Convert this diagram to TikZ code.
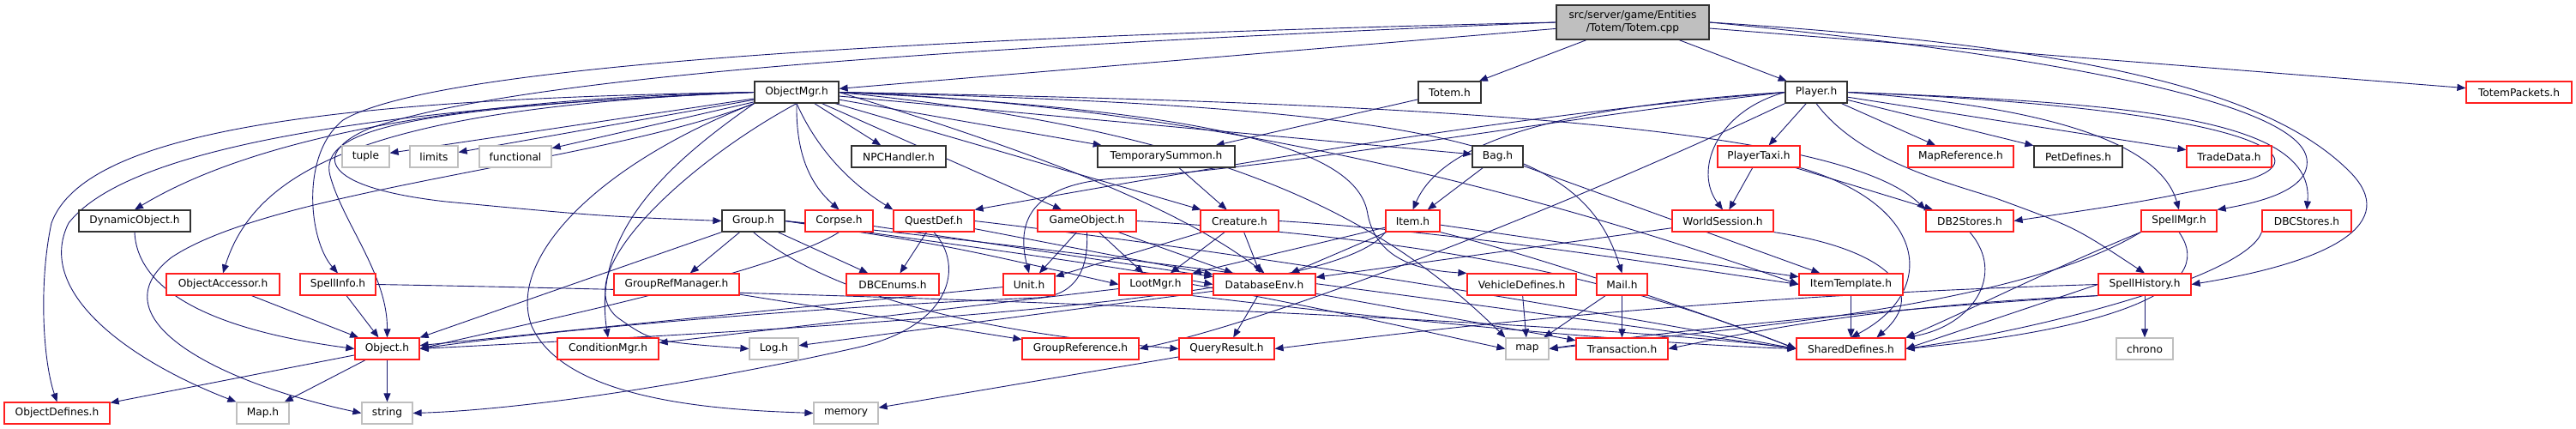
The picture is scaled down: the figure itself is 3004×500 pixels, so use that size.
\documentclass[tikz,border=0pt]{standalone}
\usepackage{fontspec}
\setmainfont{DejaVu Sans}
\usetikzlibrary{arrows.meta}
\pgfdeclarelayer{edges}
\pgfsetlayers{edges,main}
\definecolor{edgeblue}{RGB}{25,25,112}
\definecolor{boxred}{RGB}{255,30,30}
\definecolor{boxgray}{RGB}{191,191,191}
\definecolor{boxblack}{RGB}{50,50,50}
\tikzset{
  nb/.style={draw=boxblack, line width=1.2pt, fill=white, minimum height=25pt, inner sep=0pt, font=\fontsize{12.2}{15}\selectfont, text=black},
  nr/.style={nb, draw=boxred},
  ng/.style={nb, draw=boxgray},
  edg/.style={draw=edgeblue, line width=0.9pt, -{Triangle[length=10pt,width=8pt]}}
}
\begin{document}
\begin{tikzpicture}[x=1pt,y=-1pt]
\useasboundingbox (0,0) rectangle (3004,500);
% row 0
\node[nb, fill=boxgray, minimum width=178pt, minimum height=40pt, align=center] (root) at (1904,26) {src/server/game/Entities\\/Totem/Totem.cpp};
% row 1
\node[nb, minimum width=98pt] (ObjectMgr) at (929,107.5) {ObjectMgr.h};
\node[nb, minimum width=73pt] (TotemH) at (1690.5,107.5) {Totem.h};
\node[nb, minimum width=72pt] (Player) at (2118,107.5) {Player.h};
\node[nr, minimum width=123pt] (TotemPackets) at (2937.5,107.5) {TotemPackets.h};
% row 2
\node[ng, minimum width=55pt] (tuple) at (426.5,182.5) {tuple};
\node[ng, minimum width=56pt] (limits) at (506,182.5) {limits};
\node[ng, minimum width=84pt] (functional) at (601,182.5) {functional};
\node[nb, minimum width=110pt] (NPCHandler) at (1048,182.5) {NPCHandler.h};
\node[nb, minimum width=160pt] (TempSum) at (1360,182.5) {TemporarySummon.h};
\node[nb, minimum width=59pt] (Bag) at (1746.5,182.5) {Bag.h};
\node[nr, minimum width=96pt] (PlayerTaxi) at (2051,182.5) {PlayerTaxi.h};
\node[nr, minimum width=123pt] (MapReference) at (2286.5,182.5) {MapReference.h};
\node[nb, minimum width=103pt] (PetDefines) at (2423.5,182.5) {PetDefines.h};
\node[nr, minimum width=99pt] (TradeData) at (2599.5,182.5) {TradeData.h};
% row 3
\node[nb, minimum width=130pt] (DynamicObject) at (157,257.5) {DynamicObject.h};
\node[nb, minimum width=73pt] (Group) at (878.5,257.5) {Group.h};
\node[nr, minimum width=79pt] (Corpse) at (978.5,257.5) {Corpse.h};
\node[nr, minimum width=94pt] (QuestDef) at (1089,257.5) {QuestDef.h};
\node[nr, minimum width=115pt] (GameObject) at (1267.5,257.5) {GameObject.h};
\node[nr, minimum width=91pt] (Creature) at (1445.5,257.5) {Creature.h};
\node[nr, minimum width=63pt] (Item) at (1647.5,257.5) {Item.h};
\node[nr, minimum width=118pt] (WorldSession) at (2009,257.5) {WorldSession.h};
\node[nr, minimum width=102pt] (DB2Stores) at (2297,257.5) {DB2Stores.h};
\node[nr, minimum width=88pt] (SpellMgr) at (2541,257.5) {SpellMgr.h};
\node[nr, minimum width=104pt] (DBCStores) at (2690,257.5) {DBCStores.h};
% row 4
\node[nr, minimum width=132pt] (ObjectAccessor) at (260,331.5) {ObjectAccessor.h};
\node[nr, minimum width=88pt] (SpellInfo) at (394,331.5) {SpellInfo.h};
\node[nr, minimum width=146pt] (GroupRefManager) at (789,331.5) {GroupRefManager.h};
\node[nr, minimum width=108pt] (DBCEnums) at (1041,331.5) {DBCEnums.h};
\node[nr, minimum width=60pt] (Unit) at (1200,331.5) {Unit.h};
\node[nr, minimum width=85pt] (LootMgr) at (1347.5,331.5) {LootMgr.h};
\node[nr, minimum width=119pt] (DatabaseEnv) at (1474.5,331.5) {DatabaseEnv.h};
\node[nr, minimum width=127pt] (VehicleDefines) at (1774.5,331.5) {VehicleDefines.h};
\node[nr, minimum width=59pt] (Mail) at (1891.5,331.5) {Mail.h};
\node[nr, minimum width=121pt] (ItemTemplate) at (2158.5,331.5) {ItemTemplate.h};
\node[nr, minimum width=108pt] (SpellHistory) at (2501,331.5) {SpellHistory.h};
% row 5
\node[nr, minimum width=75pt] (Object) at (451.5,406.5) {Object.h};
\node[nr, minimum width=118pt] (ConditionMgr) at (709,406.5) {ConditionMgr.h};
\node[ng, minimum width=57pt] (Log) at (902.5,406.5) {Log.h};
\node[nr, minimum width=136pt] (GroupReference) at (1260,406.5) {GroupReference.h};
\node[nr, minimum width=111pt] (QueryResult) at (1430.5,406.5) {QueryResult.h};
\node[ng, minimum width=50pt] (map) at (1781,406.5) {map};
\node[nr, minimum width=107pt] (Transaction) at (1891.5,406.5) {Transaction.h};
\node[nr, minimum width=127pt] (SharedDefines) at (2158.5,406.5) {SharedDefines.h};
\node[ng, minimum width=66pt] (chrono) at (2501,406.5) {chrono};
% row 6
\node[nr, minimum width=123pt] (ObjectDefines) at (66.5,481.5) {ObjectDefines.h};
\node[ng, minimum width=61pt] (MapH) at (306.5,481.5) {Map.h};
\node[ng, minimum width=59pt] (string) at (451.5,481.5) {string};
\node[ng, minimum width=75pt] (memory) at (986.5,481.5) {memory};

\begin{pgfonlayer}{edges}
\fill[white] (0,0) rectangle (3004,500);
% ---- root edges
\draw[edg] (root) -- (ObjectMgr);
\draw[edg] (root) -- (TotemH);
\draw[edg] (root) -- (Player);
\draw[edg] (root) -- (TotemPackets);
\draw[edg] (root.west) .. controls (1000,45) and (500,80) .. (400,140) .. controls (350,180) and (360,280) .. (SpellInfo.north);
\draw[edg] (root.west) .. controls (1100,55) and (600,90) .. (430,150) .. controls (365,178) and (370,218) .. (520,235) .. controls (700,252) .. (Group.west);
\draw[edg] (root.east) .. controls (2450,55) and (2650,110) .. (2740,200) .. controls (2800,260) and (2720,305) .. (SpellHistory.east);
\draw[edg] (root.east) .. controls (2400,65) and (2680,120) .. (2690,185) .. controls (2695,220) and (2640,235) .. (SpellMgr.north east);

% ---- ObjectMgr edges
\draw[edg] (ObjectMgr) -- (tuple);
\draw[edg] (ObjectMgr) -- (limits);
\draw[edg] (ObjectMgr) -- (functional);
\draw[edg] (ObjectMgr) -- (NPCHandler);
\draw[edg] (ObjectMgr.west) .. controls (500,115) and (280,170) .. (DynamicObject.north);
\draw[edg] (ObjectMgr.west) .. controls (450,125) and (300,190) .. (ObjectAccessor.north);
\draw[edg] (ObjectMgr.west) .. controls (480,125) and (370,150) .. (385,205) .. controls (400,260) and (452,320) .. (Object.north);
\draw[edg] (ObjectMgr.west) .. controls (400,115) and (100,150) .. (60,260) .. controls (45,330) and (50,420) .. (ObjectDefines.north);
\draw[edg] (ObjectMgr.west) .. controls (450,125) and (150,170) .. (80,260) .. controls (40,340) and (150,420) .. (MapH.north west);
\draw[edg] (ObjectMgr.south west) .. controls (700,190) and (320,220) .. (200,300) .. controls (110,370) and (250,445) .. (string.west);
\draw[edg] (ObjectMgr.south west) .. controls (780,190) and (690,270) .. (ConditionMgr.north);
\draw[edg] (ObjectMgr.south) .. controls (800,190) and (660,320) .. (720,370) .. controls (760,398) .. (Log.west);
\draw[edg] (ObjectMgr.south west) .. controls (700,190) and (590,300) .. (620,380) .. controls (660,470) and (850,478) .. (memory.west);
\draw[edg] (ObjectMgr.south) .. controls (928,180) and (945,215) .. (Corpse.north);
\draw[edg] (ObjectMgr.south) .. controls (960,190) and (1010,225) .. (QuestDef.north west);
\draw[edg] (ObjectMgr) -- (GameObject);
\draw[edg] (ObjectMgr) -- (Creature);
\draw[edg] (ObjectMgr) -- (TempSum);
\draw[edg] (ObjectMgr.east) .. controls (1150,160) and (1360,230) .. (DatabaseEnv.north);
\draw[edg] (ObjectMgr) -- (Bag);
\draw[edg] (ObjectMgr.east) .. controls (1700,125) and (1845,170) .. (Mail.north);
\draw[edg] (ObjectMgr.east) .. controls (1400,150) and (1600,240) .. (map.north west);
\draw[edg] (ObjectMgr.east) .. controls (1450,130) and (1585,180) .. (1595,250) .. controls (1605,300) and (1650,315) .. (VehicleDefines.north west);
\draw[edg] (ObjectMgr.east) .. controls (1500,125) and (1950,280) .. (ItemTemplate.west);
\draw[edg] (ObjectMgr.east) .. controls (1700,120) and (2150,150) .. (DB2Stores.north west);

% ---- Totem.h, TemporarySummon
\draw[edg] (TotemH) -- (TempSum);
\draw[edg] (TempSum) -- (Creature);

% ---- Player edges
\draw[edg] (Player) -- (PlayerTaxi);
\draw[edg] (Player) -- (MapReference);
\draw[edg] (Player) -- (PetDefines);
\draw[edg] (Player) -- (TradeData);
\draw[edg] (Player.west) .. controls (2000,130) and (1975,200) .. (WorldSession.north);
\draw[edg] (Player.west) .. controls (1800,125) and (1680,170) .. (Item.north);
\draw[edg] (Player.west) .. controls (1800,130) and (1500,180) .. (QuestDef.north east);
\draw[edg] (Player.west) .. controls (1800,140) and (1500,195) .. (1300,208) .. controls (1200,215) and (1185,260) .. (Unit.north);
\draw[edg] (Player.south west) .. controls (1850,230) and (1500,370) .. (GroupReference.east);
\draw[edg] (Player.south) .. controls (2170,190) and (2280,215) .. (2330,232) .. controls (2420,265) .. (SpellHistory.north);
\draw[edg] (Player.east) .. controls (2400,125) and (2520,170) .. (SpellMgr.north);
\draw[edg] (Player.east) .. controls (2500,120) and (2700,140) .. (DBCStores.north);
\draw[edg] (Player.east) .. controls (2600,125) and (2720,180) .. (2620,210) .. controls (2500,235) .. (DB2Stores.east);

% ---- PlayerTaxi, WorldSession, DB2Stores
\draw[edg] (PlayerTaxi) -- (WorldSession);
\draw[edg] (PlayerTaxi) -- (DB2Stores);
\draw[edg] (PlayerTaxi.south east) .. controls (2250,240) and (2260,340) .. (SharedDefines.north);
\draw[edg] (WorldSession) -- (DatabaseEnv);
\draw[edg] (WorldSession.south east) .. controls (2200,290) and (2250,340) .. ([xshift=30pt]SharedDefines.north);
\draw[edg] (DB2Stores.south) .. controls (2340,320) and (2300,380) .. (SharedDefines.north east);
\draw[edg] (ItemTemplate) -- (SharedDefines);

% ---- Spell*
\draw[edg] (SpellHistory) -- (chrono);
\draw[edg] (SpellHistory.west) -- (SharedDefines.east);
\draw[edg] (SpellHistory.south west) .. controls (2200,355) and (2050,385) .. (Transaction.east);
\draw[edg] (SpellHistory.south west) .. controls (2200,360) and (1950,385) .. (map.east);
\draw[edg] (SpellHistory.west) .. controls (2000,345) and (1700,380) .. (QueryResult.east);
\draw[edg] (SpellMgr.south west) .. controls (2400,310) and (2300,360) .. (SharedDefines.north east);
\draw[edg] (SpellMgr.south) .. controls (2590,340) and (2450,385) .. (SharedDefines.east);
\draw[edg] (SpellMgr.south west) .. controls (2350,360) and (2000,385) .. (map.east);
\draw[edg] (DBCStores.south west) .. controls (2620,320) and (2400,380) .. (SharedDefines.east);
\draw[edg] (SpellInfo.east) .. controls (1200,345) and (1900,380) .. (SharedDefines.west);
\draw[edg] (SpellInfo) -- (Object);

% ---- Mail, VehicleDefines, Bag, Item
\draw[edg] (Mail) -- (map);
\draw[edg] (Mail) -- (Transaction);
\draw[edg] (VehicleDefines) -- (map);
\draw[edg] (Bag) -- (Item);
\draw[edg] (Bag) -- (ItemTemplate);
\draw[edg] (Item) -- (DatabaseEnv);
\draw[edg] (Item) -- (ItemTemplate);
\draw[edg] (Item) -- (LootMgr.north east);
\draw[edg] (Item.south west) .. controls (1560,350) and (1000,380) .. (Object.east);
\draw[edg] (Item.south east) .. controls (1800,300) and (2000,370) .. (SharedDefines.west);

% ---- Group
\draw[edg] (Group.south west) -- (Object.north east);
\draw[edg] (Group) -- (GroupRefManager);
\draw[edg] (Group) -- (DBCEnums);
\draw[edg] (Group.east) .. controls (1100,285) .. (LootMgr.west);
\draw[edg] (Group.east) .. controls (1150,290) and (1300,310) .. (DatabaseEnv.west);
\draw[edg] (Group.south) .. controls (950,330) and (1100,385) .. (QueryResult.west);
\draw[edg] (Group.east) .. controls (1300,295) and (1900,380) .. (SharedDefines.west);
\draw[edg] (GroupRefManager) -- (GroupReference);

% ---- Corpse, QuestDef, GameObject, Creature, Unit
\draw[edg] (Corpse.south) .. controls (900,320) and (600,380) .. (Object.east);
\draw[edg] (Corpse) -- (DatabaseEnv);
\draw[edg] (QuestDef) -- (DBCEnums);
\draw[edg] (QuestDef.south) .. controls (1125,310) and (1110,380) .. (1000,405) .. controls (800,450) and (600,478) .. (string.east);
\draw[edg] (QuestDef) -- (DatabaseEnv);
\draw[edg] (QuestDef.east) .. controls (1500,300) and (1900,370) .. (SharedDefines.west);
\draw[edg] (GameObject) -- (Unit);
\draw[edg] (GameObject) -- (LootMgr);
\draw[edg] (GameObject) -- (DatabaseEnv);
\draw[edg] (GameObject.south) .. controls (1270,320) and (1250,345) .. (1210,347) .. controls (900,360) and (600,390) .. (Object.east);
\draw[edg] (GameObject.east) .. controls (1700,280) and (1900,330) .. (SharedDefines.west);
\draw[edg] (Creature) -- (Unit);
\draw[edg] (Creature) -- (LootMgr);
\draw[edg] (Creature) -- (DatabaseEnv);
\draw[edg] (Creature.east) .. controls (1700,270) and (1950,310) .. (ItemTemplate.west);
\draw[edg] (Unit) -- (Object);

% ---- LootMgr, DatabaseEnv, QueryResult
\draw[edg] (LootMgr) -- (ConditionMgr);
\draw[edg] (LootMgr.east) .. controls (1550,360) and (1700,395) .. (map.west);
\draw[edg] (LootMgr.south east) .. controls (1600,370) and (1900,400) .. (SharedDefines.west);
\draw[edg] (DatabaseEnv) -- (QueryResult);
\draw[edg] (DatabaseEnv) -- (Transaction);
\draw[edg] (DatabaseEnv) -- (Log);
\draw[edg] (QueryResult) -- (memory);

% ---- Object and friends
\draw[edg] (ObjectAccessor) -- (Object);
\draw[edg] (DynamicObject.south) .. controls (160,340) and (250,385) .. (Object.west);
\draw[edg] (Object) -- (ObjectDefines);
\draw[edg] (Object) -- (MapH);
\draw[edg] (Object) -- (string);
\end{pgfonlayer}
\end{tikzpicture}
\end{document}
